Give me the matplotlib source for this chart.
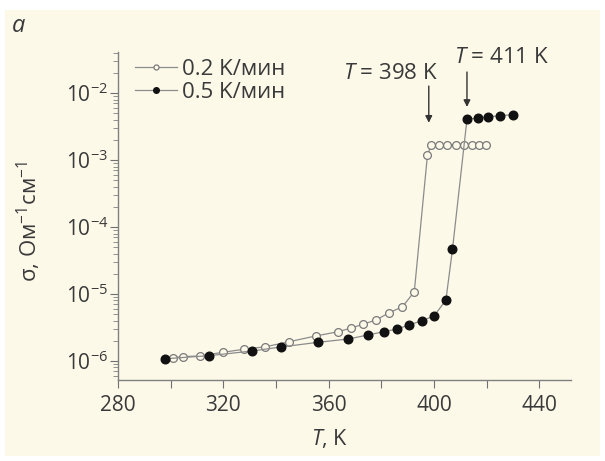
import numpy as np
import matplotlib.pyplot as plt
from matplotlib.patches import Rectangle
from matplotlib.ticker import LogLocator, FixedLocator, NullFormatter

plt.rcParams['font.family'] = ['Open Sans', 'DejaVu Sans']
plt.rcParams['mathtext.fontset'] = 'custom'
plt.rcParams['mathtext.rm'] = 'Open Sans'
plt.rcParams['mathtext.it'] = 'Open Sans:italic'

# 0.2 K/min (open circles)
T_slow = [301, 304.5, 311, 320, 328, 336, 345, 355, 363.5, 368.5, 373, 378,
          383, 388, 392.5, 397.5, 399, 402, 405, 408.3, 411.5, 414.3, 417, 419.7]
s_slow = [1.12e-6, 1.16e-6, 1.19e-6, 1.35e-6, 1.5e-6, 1.63e-6, 1.94e-6, 2.36e-6,
          2.73e-6, 3.1e-6, 3.53e-6, 4.1e-6, 5.26e-6, 6.45e-6, 1.08e-5, 1.19e-3,
          1.7e-3, 1.7e-3, 1.7e-3, 1.7e-3, 1.7e-3, 1.7e-3, 1.7e-3, 1.7e-3]

# 0.5 K/min (filled circles)
T_fast = [298, 314.5, 331, 342, 356, 367.5, 375, 381, 386, 390.5, 395.5, 400,
          404.5, 407, 412.5, 416.5, 420.5, 425, 430]
s_fast = [1.08e-6, 1.2e-6, 1.41e-6, 1.62e-6, 1.9e-6, 2.13e-6, 2.45e-6, 2.74e-6,
          3.0e-6, 3.45e-6, 4.0e-6, 4.7e-6, 8.1e-6, 4.65e-5, 4.05e-3, 4.25e-3,
          4.4e-3, 4.6e-3, 4.75e-3]

labels = ['0.2 K/мин', '0.5 K/мин']
x_major = [280, 320, 360, 400, 440]
x_minor = [300, 340, 380, 420]

bg = '#fcf9e9'
txt = '#3a3a3a'
gray = '#8c8c8c'
fs = 15

fig = plt.figure(figsize=(6.05, 4.61), dpi=100, facecolor='white')
fig.patches.append(Rectangle((5/605, 1-456/461), 595/605, 446/461,
                             transform=fig.transFigure, facecolor=bg,
                             edgecolor='none', zorder=-10))
ax = fig.add_axes([118/605, 1-380/461, 453/605, 328/461])
ax.set_facecolor(bg)

ax.plot(T_slow, s_slow, '-o', color=gray, lw=0.9, ms=5.6, mfc=bg,
        mec='#7a7a7a', mew=0.9, label=labels[0], zorder=3)
ax.plot(T_fast, s_fast, '-o', color=gray, lw=0.9, ms=6.2, mfc='#111111',
        mec='#111111', label=labels[1], zorder=4)

ax.set_yscale('log')
ax.set_xlim(280, 452)
ax.set_ylim(5.2e-7, 4.1e-2)

ax.xaxis.set_major_locator(FixedLocator(x_major))
ax.xaxis.set_minor_locator(FixedLocator(x_minor))
ax.xaxis.set_minor_formatter(NullFormatter())
ax.yaxis.set_major_locator(LogLocator(base=10, numticks=10))
ax.yaxis.set_minor_locator(LogLocator(base=10, subs=np.arange(2, 10), numticks=10))
ax.yaxis.set_minor_formatter(NullFormatter())

for s in ['top', 'right']:
    ax.spines[s].set_visible(False)
for s in ['left', 'bottom']:
    ax.spines[s].set_color('#808080')
    ax.spines[s].set_linewidth(1.0)

ax.tick_params(axis='x', which='both', direction='out', length=6, width=0.8,
               color='#707070', labelsize=fs, labelcolor=txt, pad=5)
ax.tick_params(axis='y', which='major', direction='out', length=6, width=0.8,
               color='#707070', labelsize=fs, labelcolor=txt, pad=1)
ax.tick_params(axis='y', which='minor', direction='out', length=3.5, width=0.6,
               color='#808080')

ax.set_xlabel('$T$, K', fontsize=15.5, color=txt)
ax.xaxis.set_label_coords((330-118)/453, -(427-380)/328)
ax.set_ylabel('σ, Ом$^{-1}$см$^{-1}$', fontsize=16, color=txt)
ax.yaxis.set_label_coords(-(118-43)/453, (380-222)/328)

# transition arrows
ax.annotate('', xy=(398, 3.6e-3), xytext=(398, 1.27e-2),
            arrowprops=dict(arrowstyle='-|>', color='#333333', lw=1.0,
                            mutation_scale=10, shrinkA=0, shrinkB=0))
ax.annotate('', xy=(412.5, 6.2e-3), xytext=(412.5, 2.06e-2),
            arrowprops=dict(arrowstyle='-|>', color='#333333', lw=1.0,
                            mutation_scale=10, shrinkA=0, shrinkB=0))
ax.text(383.4, 0.0199, '$T$ = 398 K', fontsize=16, color=txt,
        ha='center', va='center')
ax.text(425.6, 0.0344, '$T$ = 411 K', fontsize=16, color=txt,
        ha='center', va='center')

leg = ax.legend(loc='upper left', bbox_to_anchor=(135/605, 1-59/461),
                bbox_transform=fig.transFigure, frameon=False, fontsize=16,
                handlelength=1.9, handletextpad=0.2, labelspacing=0.1,
                markerscale=0.65, borderaxespad=0, borderpad=0)
for t in leg.get_texts():
    t.set_color(txt)

fig.text(12/605, 1-26/461, 'a', fontsize=17, style='italic', color=txt,
         va='center', ha='left')

fig.savefig('out.png', dpi=100, facecolor='white')
